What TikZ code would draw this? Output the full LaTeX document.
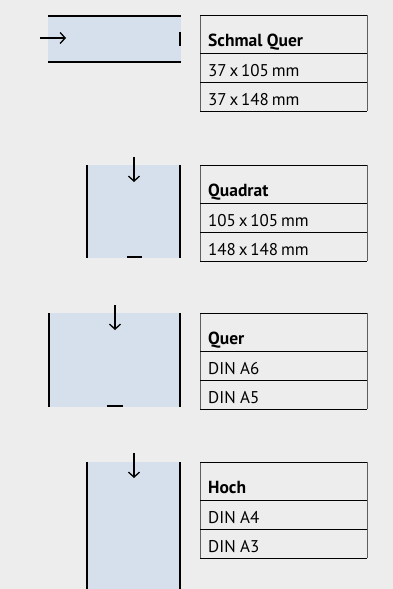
\documentclass[tikz,border=0pt]{standalone}
\usepackage{fontspec}
\setmainfont{PT Sans}
\usetikzlibrary{arrows.meta}

\definecolor{paper}{RGB}{236,237,236}
\definecolor{foldblue}{RGB}{214,224,236}
\definecolor{frame}{RGB}{95,95,95}

\tikzset{
    edge/.style={line width=2pt},
    tick/.style={line width=2.5pt},
    feed/.style={line width=1.3pt, -{Straight Barb[length=5pt,width=11pt]}},
    rule/.style={line width=1pt},
    side/.style={line width=1pt, draw=frame},
    entry/.style={anchor=base west, inner sep=0pt, font=\fontsize{17}{19}\selectfont},
    heading/.style={entry, font=\fontsize{17.5}{19}\selectfont\bfseries},
}

\begin{document}
\begin{tikzpicture}[x=1pt, y=-1pt]
    \fill[paper] (0,0) rectangle (393,589);
    \useasboundingbox (0,0) rectangle (393,589);

    % Schmal Quer
    \fill[foldblue] (48,16) rectangle (181,62);
    \coordinate (sq-tl) at (48,16);
    \coordinate (sq-tr) at (181,16);
    \coordinate (sq-bl) at (48,62);
    \coordinate (sq-br) at (181,62);
    \coordinate (sq-in) at (40,38);
    \coordinate (sq-out) at (66,38);
    \coordinate (sq-t1) at (179.5,32);
    \coordinate (sq-t2) at (179.5,46);
    \draw[edge] (sq-tl) -- (sq-tr);
    \draw[edge] (sq-bl) -- (sq-br);
    \draw[feed] (sq-in) -- (sq-out);
    \draw[edge] (sq-t1) -- (sq-t2);

    % Quadrat
    \fill[foldblue] (87,165) rectangle (181,258);
    \coordinate (qd-tl) at (87,165);
    \coordinate (qd-bl) at (87,258);
    \coordinate (qd-tr) at (180,165);
    \coordinate (qd-br) at (180,258);
    \coordinate (qd-in) at (134,157);
    \coordinate (qd-out) at (134,182);
    \coordinate (qd-t1) at (127,257);
    \coordinate (qd-t2) at (142,257);
    \draw[edge] (qd-tl) -- (qd-bl);
    \draw[edge] (qd-tr) -- (qd-br);
    \draw[feed] (qd-in) -- (qd-out);
    \draw[tick] (qd-t1) -- (qd-t2);

    % Quer
    \fill[foldblue] (48,313) rectangle (181,407);
    \coordinate (qu-tl) at (49,313);
    \coordinate (qu-bl) at (49,407);
    \coordinate (qu-tr) at (180,313);
    \coordinate (qu-br) at (180,407);
    \coordinate (qu-in) at (115,305);
    \coordinate (qu-out) at (115,330);
    \coordinate (qu-t1) at (107,406);
    \coordinate (qu-t2) at (123,406);
    \draw[edge] (qu-tl) -- (qu-bl);
    \draw[edge] (qu-tr) -- (qu-br);
    \draw[feed] (qu-in) -- (qu-out);
    \draw[tick] (qu-t1) -- (qu-t2);

    % Hoch
    \fill[foldblue] (87,462) rectangle (181,589);
    \coordinate (ho-tl) at (87,462);
    \coordinate (ho-bl) at (87,589);
    \coordinate (ho-tr) at (180,462);
    \coordinate (ho-br) at (180,589);
    \coordinate (ho-in) at (134,453);
    \coordinate (ho-out) at (134,478);
    \draw[edge] (ho-tl) -- (ho-bl);
    \draw[edge] (ho-tr) -- (ho-br);
    \draw[feed] (ho-in) -- (ho-out);

    % Formate
    \foreach \name/\top/\head/\first/\second in {
        sq/15/Schmal Quer/37\,x\,105\,mm/37\,x\,148\,mm,
        qd/165/Quadrat/105\,x\,105\,mm/148\,x\,148\,mm,
        qu/313/Quer/DIN A6/DIN A5,
        ho/462/Hoch/DIN A4/DIN A3}{
        \coordinate (\name-a) at (200,\top);
        \coordinate (\name-b) at (367,\top);
        \coordinate (\name-c) at (200,\top+38);
        \coordinate (\name-d) at (367,\top+38);
        \coordinate (\name-e) at (200,\top+67);
        \coordinate (\name-f) at (367,\top+67);
        \coordinate (\name-g) at (200,\top+96);
        \coordinate (\name-h) at (367,\top+96);
        \draw[side] (\name-a) -- (\name-g);
        \draw[side] (\name-b) -- (\name-h);
        \draw[rule] (\name-a) -- (\name-b);
        \draw[rule] (\name-c) -- (\name-d);
        \draw[rule] (\name-e) -- (\name-f);
        \draw[rule] (\name-g) -- (\name-h);
        \node[heading] (\name-head) at (208,\top+31) {\head};
        \node[entry] (\name-one) at (208,\top+61) {\first};
        \node[entry] (\name-two) at (208,\top+90) {\second};
    }
\end{tikzpicture}
\end{document}
